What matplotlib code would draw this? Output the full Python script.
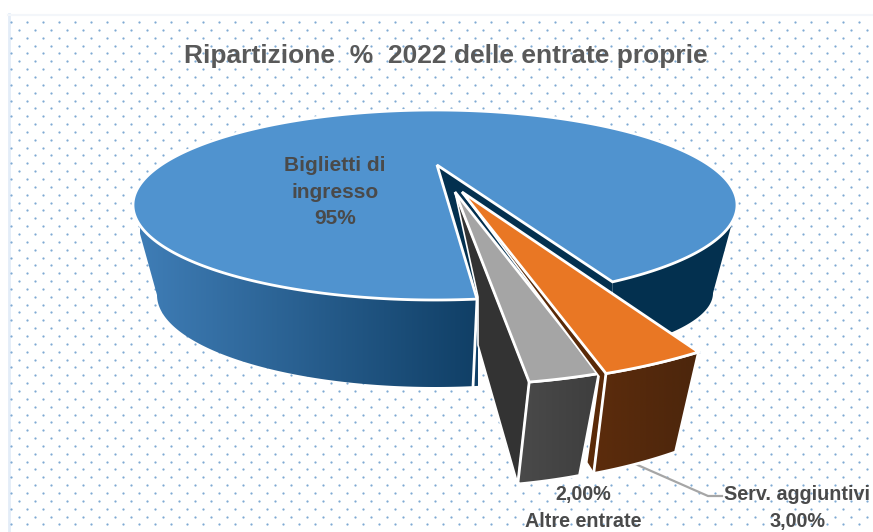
import numpy as np
import matplotlib
matplotlib.use("Agg")
import matplotlib.pyplot as plt
from matplotlib.patches import Polygon

plt.rcParams['font.family'] = ['Liberation Sans', 'DejaVu Sans']

title = "Ripartizione  %  2022 delle entrate proprie"
categories = ["Biglietti di ingresso", "Serv. aggiuntivi", "Altre entrate"]
values = [95, 3, 2]
labels = ["Biglietti di\ningresso\n95%", "Serv. aggiuntivi\n3,00%", "2,00%\nAltre entrate"]

TEXT = "#4A4A4A"
WHITE_LW = 2.0

fig = plt.figure(figsize=(8.73, 5.32), dpi=100, facecolor="white")
ax = fig.add_axes([0, 0, 1, 1])
ax.set_xlim(0, 873)
ax.set_ylim(532, 0)
ax.axis("off")

# dotted panel background
ax.plot([8.5, 8.5], [14, 532], color="#E3EDF8", lw=2, zorder=1)
ax.plot([8, 873], [14.5, 14.5], color="#F3F6FA", lw=1.5, zorder=1)
for i, y in enumerate(np.arange(22, 532, 7.85)):
    xs = np.arange(11 if i % 2 == 0 else 19, 873, 16)
    ax.scatter(xs, np.full_like(xs, y, dtype=float), s=2.6, color="#7FAAD4",
               linewidths=0, zorder=1)


def arc(cx, cy, a, b, t0, t1, n=160):
    t = np.radians(np.linspace(t0, t1, n))
    return np.column_stack([cx + a * np.cos(t), cy + b * np.sin(t)])


def gradient_poly(pts, c0, c1, x0, x1, z):
    cmap = matplotlib.colors.LinearSegmentedColormap.from_list("g", [c0, c1])
    ymin, ymax = pts[:, 1].min(), pts[:, 1].max()
    im = ax.imshow(np.linspace(0, 1, 128).reshape(1, -1), cmap=cmap, aspect="auto",
                   extent=[x0, x1, ymax, ymin], zorder=z, interpolation="bilinear")
    patch = Polygon(pts, closed=True, transform=ax.transData, fc="none", ec="none")
    ax.add_patch(patch)
    im.set_clip_path(patch)
    ax.set_xlim(0, 873)
    ax.set_ylim(532, 0)


# ---- main slice: arc sweep derived from the values
GAP_PER_PCT = 5.6
t_start = 82.0
t_end = t_start + 360 - GAP_PER_PCT * (100 - values[0])
CX, CY, A, B = 435, 205, 302, 95
apex_main = np.array([437, 165])
top_arc = arc(CX, CY, A, B, t_start, t_end, 400)
left_pt, right_pt = top_arc[0], top_arc[-1]

# right outer wall
wall_r = np.vstack([
    arc(CX, CY, A, B, t_end - 360, 10, 80),
    arc(435, 293, 278, 75, 0, 45, 60),
    [[right_pt[0], right_pt[1] + 10]],
])
ax.add_patch(Polygon(wall_r, closed=True, fc="#03304F", ec="none", zorder=2))

# left outer wall (front)
wall_l = np.vstack([
    arc(CX, CY, A, B, t_start, 173, 120),
    arc(435, 295, 278, 92, 180, t_start - 2, 160),
])
gradient_poly(wall_l, "#3F7DB6", "#103F66", 140, 478, 2)
ax.plot([left_pt[0], 473], [left_pt[1], 387], color="white", lw=WHITE_LW, zorder=3)

# dark inner wall of the main slice
ax.add_patch(Polygon([apex_main, right_pt, right_pt + [0, 10], left_pt],
                     closed=True, fc="#03304F", ec="none", zorder=3))

# main top face
main_top = np.vstack([apex_main, top_arc])
ax.add_patch(Polygon(main_top, closed=True, fc="#5093CF", ec="white", lw=WHITE_LW,
                     joinstyle="miter", zorder=4))

# ---- exploded slices
DEG_PER_PCT = 4.7
TH0 = 56.0
SA, SB = 423, 193


def bottom(p, vp, dy):
    p = np.atleast_2d(p)
    return np.column_stack([vp + 0.884 * (p[:, 0] - vp), p[:, 1] + dy])


VP_GR, DY_GR = 431, 102
VP_OR, DY_OR = 500, 100

th_or = (TH0, TH0 + DEG_PER_PCT * values[1])
th_gr = (th_or[1], th_or[1] + DEG_PER_PCT * values[2] + 0.4)
apex_or = np.array([462, 192])
apex_gr = np.array([455, 192])
arc_or = arc(apex_or[0], apex_or[1], SA, SB, th_or[0], th_or[1], 30)
arc_gr = arc(apex_gr[0], apex_gr[1], SA, SB, th_gr[0], th_gr[1], 30)

# grey slice: inner wall
g_end = arc_gr[-1]
g_end_b = bottom(g_end, VP_GR, DY_GR)[0]
ax.add_patch(Polygon([apex_gr, g_end, g_end_b, [478, 345], [478, 297]], closed=True,
                     fc="#333333", ec="white", lw=1.2, zorder=5))
# grey front
g_front = np.vstack([arc_gr, bottom(arc_gr, VP_GR, DY_GR)[::-1]])
gradient_poly(g_front, "#4A4A4A", "#3E3E3E", g_front[:, 0].min(), g_front[:, 0].max(), 6)
ax.add_patch(Polygon(g_front, closed=True, fc="none", ec="white", lw=WHITE_LW, zorder=6.1))
# grey top
ax.add_patch(Polygon(np.vstack([apex_gr, arc_gr]), closed=True, fc="#A5A5A5", ec="white",
                     lw=WHITE_LW, joinstyle="miter", zorder=6.2))

# orange slice: inner wall
o_end = arc_or[-1]
o_end_b = bottom(o_end, VP_OR, DY_OR)[0]
ax.add_patch(Polygon([apex_or, o_end, o_end_b, o_end_b + [-7, -11], o_end + [-7, 3]],
                     closed=True, fc="#5A2A08", ec="white", lw=1.2, zorder=7))
# orange front
o_front = np.vstack([arc_or, bottom(arc_or, VP_OR, DY_OR)[::-1]])
gradient_poly(o_front, "#5C2C0C", "#4C260C", o_front[:, 0].min(), o_front[:, 0].max(), 8)
ax.add_patch(Polygon(o_front, closed=True, fc="none", ec="white", lw=WHITE_LW, zorder=8.1))
# orange top
ax.add_patch(Polygon(np.vstack([apex_or, arc_or]), closed=True, fc="#E97724", ec="white",
                     lw=WHITE_LW, joinstyle="miter", zorder=8.2))

# leader line
ax.plot([633, 708, 722], [463, 496, 496], color="#A6A6A6", lw=1.6, zorder=4.5)

# texts
ax.text(446, 56.5, title, ha="center", va="center", fontsize=19, fontweight="bold",
        color="#595959", zorder=10)
ax.text(335, 192, labels[0], ha="center", va="center", fontsize=15, fontweight="bold",
        color=TEXT, linespacing=1.5, zorder=10)
ax.text(797, 508, labels[1], ha="center", va="center", fontsize=14.2, fontweight="bold",
        color=TEXT, linespacing=1.5, zorder=10)
ax.text(583, 508, labels[2], ha="center", va="center", fontsize=14.2, fontweight="bold",
        color=TEXT, linespacing=1.5, zorder=10)

fig.savefig("out.png", dpi=100)
